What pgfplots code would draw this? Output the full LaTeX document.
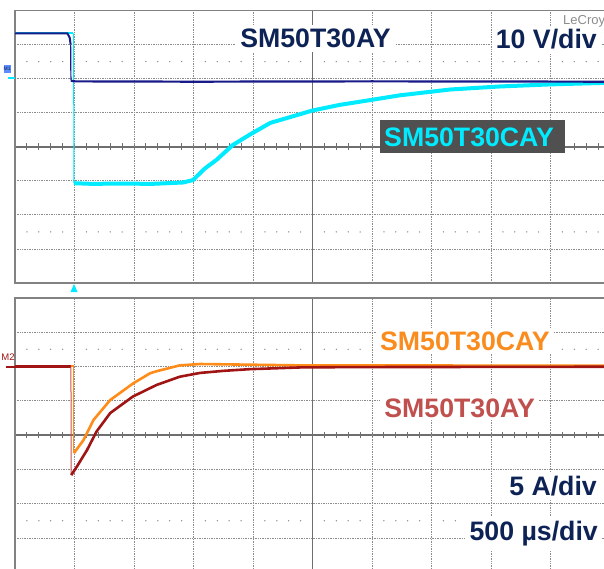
\documentclass[border=0pt]{standalone}
\usepackage{fontspec}
\setmainfont{Liberation Sans}
\usepackage{pgfplots}
\pgfplotsset{compat=1.18}
\definecolor{tnavy}{RGB}{24,26,135}
\definecolor{tcyan}{RGB}{0,235,255}
\definecolor{torange}{RGB}{255,140,25}
\definecolor{tred}{RGB}{160,20,20}
\definecolor{tredlt}{RGB}{200,80,80}
\definecolor{txtnavy}{RGB}{14,35,85}
\definecolor{txtred}{RGB}{192,80,77}
\definecolor{txtorange}{RGB}{250,140,30}
\definecolor{boxgray}{RGB}{80,80,80}
\definecolor{cline}{RGB}{110,110,110}
\definecolor{dotc}{RGB}{140,140,140}
\definecolor{framec}{RGB}{130,130,130}
\definecolor{mblue}{RGB}{90,140,255}
\pgfplotsset{
  oscpanel/.style={
    scale only axis, width=595pt, xmin=0, xmax=10, ymin=-4, ymax=4,
    xtick={1,2,3,4,6,7,8,9}, ytick={-3,-2,-1,1,2,3},
    xticklabels={}, yticklabels={}, major tick length=0pt,
    grid=major,
    major grid style={color=dotc, line width=0.8pt, dash pattern=on 0.9pt off 0.8pt},
    axis line style={color=framec, line width=1.4pt},
  }
}
\begin{document}
\begin{tikzpicture}
\useasboundingbox (0,0) rectangle (604pt,568pt);
\clip (0,0) rectangle (604pt,568pt);
\begin{scope}[x=1pt,y=1pt]
  % top panel centre lines and ticks
  \draw[cline, line width=1.6pt] (15,421.25) -- (610,421.25);
  \foreach \i in {1,...,49} \draw[cline, line width=0.9pt] ({15+11.9*\i},418) -- ({15+11.9*\i},424.5);
  \draw[cline, line width=1pt] (312.5,285) -- (312.5,557.5);
  % bottom panel centre lines and ticks
  \draw[cline, line width=1.6pt] (15,133) -- (610,133);
  \foreach \i in {1,...,49} \draw[cline, line width=0.9pt] ({15+11.9*\i},129.75) -- ({15+11.9*\i},136.25);
  \draw[cline, line width=1pt] (312.5,-4.2) -- (312.5,270);
  % dot rows
  \foreach \i in {1,...,49} {
    \pgfmathtruncatemacro\m{mod(\i,5)}
    \ifnum\m=0\relax\else
      \fill[dotc] ({15+11.9*\i},506.4) circle (0.75);
      \fill[dotc] ({15+11.9*\i},336.1) circle (0.75);
      \fill[dotc] ({15+11.9*\i},218.75) circle (0.75);
      \fill[dotc] ({15+11.9*\i},47.25) circle (0.75);
    \fi
  }
\end{scope}

% ---------------- top panel: 10 V/div ----------------
\begin{axis}[oscpanel, at={(15pt,285pt)}, anchor=south west, height=272.5pt]
  % SM50T30CAY (cyan)
  \addplot[tcyan, line width=2.2pt] coordinates {(0,3.33) (0.975,3.33)};
  \addplot[tcyan, line width=1pt] coordinates {(0.985,3.33) (0.99,-1.07)};
  \addplot[tcyan, line width=4pt] coordinates {
    (0.99,-1.07) (1.3,-1.09) (1.76,-1.08) (2.3,-1.09) (2.82,-1.05) (2.99,-0.98)
    (3.19,-0.64) (3.39,-0.38) (3.66,0.05) (3.95,0.36) (4.29,0.70) (4.74,0.93)
    (4.99,1.06) (5.46,1.23) (5.97,1.37) (6.47,1.51) (7.31,1.68) (8.15,1.77)
    (8.99,1.83) (10,1.88)};
  % SM50T30AY (navy)
  \addplot[tnavy, line width=2pt] coordinates {(0,3.33) (0.88,3.33) (0.92,3.2) (0.935,3.0)};
  \addplot[tnavy, line width=1.2pt] coordinates {(0.935,3.0) (0.94,1.95)};
  \addplot[tnavy, line width=2.2pt] coordinates {(0.94,1.94) (1.0,1.92) (3,1.91) (6,1.92) (10,1.91)};
\end{axis}

% ---------------- bottom panel: 5 A/div ----------------
\begin{axis}[oscpanel, at={(15pt,-4.2pt)}, anchor=south west, height=274.4pt]
  % SM50T30CAY (orange)
  \addplot[torange, line width=2pt] coordinates {(0,2.0) (0.985,2.0)};
  \addplot[torange, line width=1pt] coordinates {(0.99,2.0) (0.99,-0.53)};
  \addplot[torange, line width=2.6pt] coordinates {
    (0.99,-0.53) (1.15,-0.15) (1.32,0.44) (1.60,1.02) (1.99,1.51) (2.27,1.80)
    (2.38,1.86) (2.77,2.03) (3.11,2.07) (3.95,2.05) (4.79,2.03) (10,2.02)};
  % SM50T30AY (dark red)
  \addplot[tred, line width=2.2pt] coordinates {(0,2.0) (0.94,2.0)};
  \addplot[tredlt, line width=1pt] coordinates {(0.94,2.0) (0.945,-1.17)};
  \addplot[tred, line width=2.6pt] coordinates {
    (0.945,-1.17) (1.04,-0.92) (1.21,-0.44) (1.37,0.10) (1.60,0.64) (1.98,1.12)
    (2.38,1.46) (2.77,1.70) (3.11,1.81) (3.5,1.87) (3.95,1.92) (4.79,1.97)
    (5.63,1.98) (10,1.99)};
\end{axis}

\begin{scope}[x=1pt,y=1pt]
  \fontsize{26.7}{30}\selectfont\bfseries
  % top labels
  \node[fill=white, inner sep=4pt, anchor=base, text=txtnavy] at (315.5,520) {SM50T30AY};
  \node[fill=white, inner sep=4pt, anchor=base east, text=txtnavy] at (601,519) {10 V/div};
  \fill[boxgray] (380,415) rectangle (565,448);
  \node[inner sep=0pt, anchor=base west, text=tcyan] at (384,421) {SM50T30CAY};
  % bottom labels
  \node[fill=white, inner sep=3pt, anchor=base east, text=txtorange] at (553,218) {SM50T30CAY};
  \node[fill=white, inner sep=3pt, anchor=base east, text=txtred] at (538,151) {SM50T30AY};
  \node[fill=white, inner sep=4pt, anchor=base east, text=txtnavy] at (601,73) {5 A/div};
  \node[fill=white, inner sep=4pt, anchor=base east, text=txtnavy] at (602,28) {500 µs/div};
  % LeCroy
  \node[inner sep=0pt, anchor=base west, text=dotc, font=\fontsize{13}{14}\selectfont\mdseries] at (563,543) {LeCroy};
  % markers
  \fill[mblue] (4,495) rectangle (10.5,503);
  \node[inner sep=0pt, text=txtnavy, font=\fontsize{5}{5}\selectfont\mdseries] at (7.2,499) {M1};
  \draw[tcyan, line width=2pt] (8,489.7) -- (15,489.7);
  \node[inner sep=0pt, text=tred, font=\fontsize{9.5}{10}\selectfont\mdseries] at (8,211) {M2};
  \draw[tred, line width=2pt] (6,201.3) -- (15,201.3);
  % trigger marker
  \fill[tcyan] (70.5,276) -- (77.5,276) -- (74,284) -- cycle;
\end{scope}
\end{tikzpicture}
\end{document}
